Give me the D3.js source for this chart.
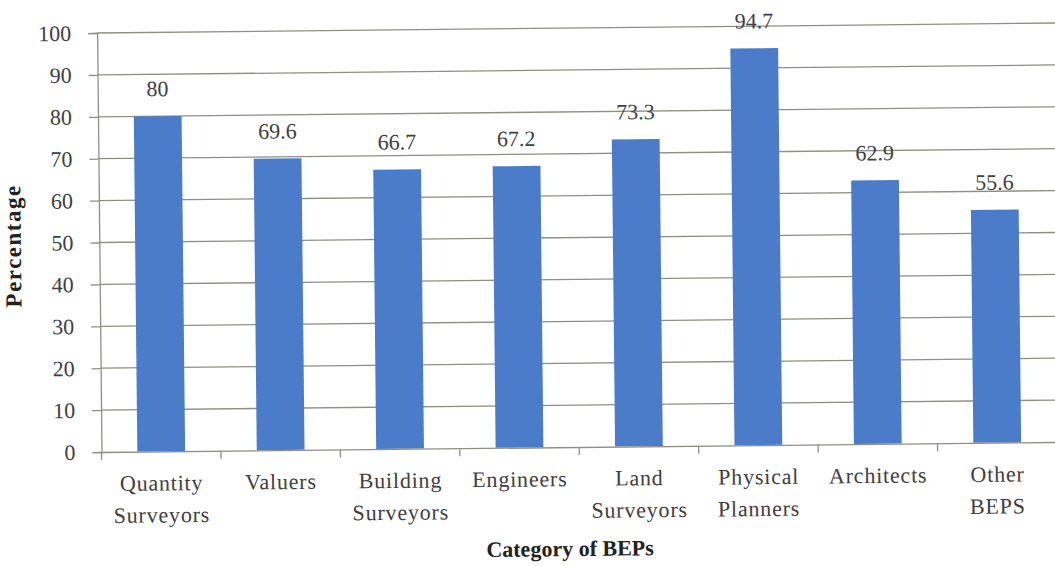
<!DOCTYPE html>
<html>
<head>
<meta charset="utf-8">
<script src="https://cdn.jsdelivr.net/npm/d3@7/dist/d3.min.js"></script>
<style>
  html, body { margin: 0; padding: 0; background: #ffffff; }
  svg { display: block; }
</style>
</head>
<body>
<svg id="chart" width="1055" height="566"></svg>
<script>
// Share of each category of built-environment professionals (percent)
const categories = ["Quantity Surveyors", "Valuers", "Building Surveyors", "Engineers",
                    "Land Surveyors", "Physical Planners", "Architects", "Other BEPS"];
const categoryLines = [["Quantity", "Surveyors"], ["Valuers"], ["Building", "Surveyors"], ["Engineers"],
                       ["Land", "Surveyors"], ["Physical", "Planners"], ["Architects"], ["Other", "BEPS"]];
const values = [80, 69.6, 66.7, 67.2, 73.3, 94.7, 62.9, 55.6];
const valueLabels = ["80", "69.6", "66.7", "67.2", "73.3", "94.7", "62.9", "55.6"];
const yTicks = [0, 10, 20, 30, 40, 50, 60, 70, 80, 90, 100];
const xTitle = "Category of BEPs";
const yTitle = "Percentage";

const serif = "'Liberation Serif', 'Times New Roman', 'DejaVu Serif', 'Noto Serif', Georgia, serif";
const plotLeft = 101.5, plotRight = 1057, plotTop = 33, plotBottom = 452;
const gridRight = 1062;

const svg = d3.select("#chart").attr("font-family", serif);
// the whole figure sits at a slight tilt
const g = svg.append("g").attr("transform", `rotate(-0.6, ${plotLeft}, ${plotBottom})`);

const x = d3.scaleBand().domain(categories).range([plotLeft, plotRight]).paddingInner(0.6).paddingOuter(0.3);
const xTicksScale = d3.scaleBand().domain(categories).range([plotLeft, plotRight]);
const y = d3.scaleLinear().domain([0, 100]).range([plotBottom, plotTop]);

const axisColor = "#8f8f86";
const textColor = "#404040";

// horizontal gridlines
g.append("g")
  .selectAll("line")
  .data(yTicks.filter(d => d > 0))
  .join("line")
  .attr("x1", plotLeft).attr("x2", gridRight)
  .attr("y1", d => y(d)).attr("y2", d => y(d))
  .attr("stroke", axisColor).attr("stroke-width", 1.3);

// y axis
const yAxis = g.append("g")
  .attr("transform", `translate(${plotLeft},0)`)
  .call(d3.axisLeft(y).tickValues(yTicks).tickSize(9).tickPadding(17).tickFormat(d3.format("d")));
yAxis.attr("font-family", serif);
yAxis.select(".domain").attr("stroke", axisColor).attr("stroke-width", 1.3);
yAxis.selectAll(".tick line").attr("stroke", axisColor).attr("stroke-width", 1.3);
yAxis.selectAll(".tick text")
  .attr("font-size", 22).attr("fill", textColor).style("font-family", serif);

// bars
g.append("g")
  .selectAll("rect")
  .data(values)
  .join("rect")
  .attr("x", (d, i) => x(categories[i]))
  .attr("width", x.bandwidth())
  .attr("y", d => y(d))
  .attr("height", d => y(0) - y(d))
  .attr("fill", "#4b7cca");

// value labels
g.append("g")
  .selectAll("text")
  .data(values)
  .join("text")
  .attr("x", (d, i) => x(categories[i]) + x.bandwidth() / 2)
  .attr("y", d => y(d) - 20)
  .attr("text-anchor", "middle")
  .attr("font-size", 22)
  .attr("fill", textColor)
  .style("font-family", serif)
  .text((d, i) => valueLabels[i]);

// x axis line
const xAxis = g.append("g")
  .attr("transform", `translate(0,${plotBottom})`)
  .call(d3.axisBottom(xTicksScale).tickSize(0).tickFormat(""));
xAxis.select(".domain").attr("stroke", axisColor).attr("stroke-width", 1.3);
xAxis.selectAll(".tick").remove();

// category boundary ticks
g.append("g")
  .selectAll("line")
  .data(categories)
  .join("line")
  .attr("x1", d => xTicksScale(d))
  .attr("x2", d => xTicksScale(d))
  .attr("y1", plotBottom).attr("y2", plotBottom + 8)
  .attr("stroke", axisColor).attr("stroke-width", 1.3);

// category labels
const catLabels = g.append("g")
  .selectAll("text")
  .data(categories)
  .join("text")
  .attr("text-anchor", "middle")
  .attr("font-size", 22)
  .attr("letter-spacing", 0.8)
  .attr("fill", textColor)
  .style("font-family", serif)
  .attr("transform", d => `translate(${xTicksScale(d) + xTicksScale.bandwidth() / 2},${plotBottom + 39})`);
catLabels.selectAll("tspan")
  .data((d, i) => categoryLines[i])
  .join("tspan")
  .attr("x", 0)
  .attr("dy", (d, i) => i === 0 ? 0 : 32)
  .text(d => d);

// axis titles
g.append("text")
  .attr("x", 569)
  .attr("y", 561)
  .attr("text-anchor", "middle")
  .attr("font-size", 22)
  .attr("font-weight", "bold")
  .attr("fill", "#222")
  .style("font-family", serif)
  .text(xTitle);

g.append("text")
  .attr("transform", `translate(23,245) rotate(-90)`)
  .attr("text-anchor", "middle")
  .attr("font-size", 23)
  .attr("font-weight", "bold")
  .attr("letter-spacing", 1.5)
  .attr("fill", "#222")
  .style("font-family", serif)
  .text(yTitle);
</script>
</body>
</html>
